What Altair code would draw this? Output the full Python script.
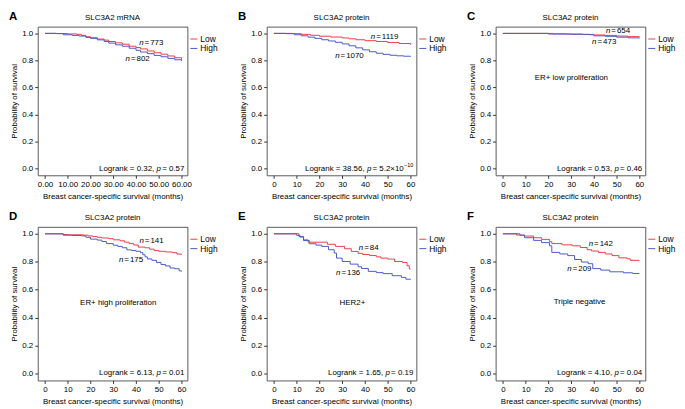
import altair as alt
import pandas as pd

FONT = "Liberation Sans"
RED = "#EE3E48"
BLUE = "#4A5BC6"
XTITLE = "Breast cancer-specific survival (months)"
YTITLE = "Probability of survival"

# ---------------- data ----------------
# Panel A  SLC3A2 mRNA
a_low_t = [0, 5, 10, 14, 16, 18, 20, 23, 26, 28, 31, 34, 37, 40, 42, 45, 48, 51, 54, 57, 60]
a_low_s = [1.0, 0.999, 0.996, 0.993, 0.985, 0.975, 0.968, 0.958, 0.95, 0.94, 0.93, 0.92, 0.905, 0.895, 0.885, 0.87, 0.857, 0.846, 0.833, 0.82, 0.805]
a_high_t = [0, 5, 8, 12, 15, 18, 20, 23, 26, 28, 31, 34, 37, 40, 42, 45, 48, 51, 54, 57, 60]
a_high_s = [1.0, 0.998, 0.99, 0.985, 0.98, 0.97, 0.963, 0.952, 0.94, 0.928, 0.915, 0.905, 0.89, 0.875, 0.862, 0.85, 0.837, 0.827, 0.815, 0.805, 0.795]

# Panel B  SLC3A2 protein (all)
b_low_t = [0, 8, 12, 16, 20, 25, 30, 33, 36, 40, 45, 50, 55, 60]
b_low_s = [1.0, 0.998, 0.993, 0.986, 0.979, 0.973, 0.966, 0.96, 0.953, 0.946, 0.94, 0.932, 0.925, 0.915]
b_high_t = [0, 5, 9, 12, 15, 18, 21, 24, 27, 30, 33, 36, 39, 42, 45, 48, 51, 54, 57, 60]
b_high_s = [1.0, 0.998, 0.99, 0.982, 0.972, 0.963, 0.953, 0.944, 0.934, 0.922, 0.908, 0.893, 0.878, 0.864, 0.853, 0.845, 0.838, 0.834, 0.831, 0.827]

# Panel C  ER+ low proliferation
c_low_t = [0, 22, 28, 35, 40, 45, 50, 55, 60]
c_low_s = [1.0, 0.997, 0.995, 0.992, 0.988, 0.985, 0.98, 0.976, 0.972]
c_high_t = [0, 20, 30, 38, 40, 45, 50, 55, 60]
c_high_s = [1.0, 0.995, 0.993, 0.99, 0.982, 0.978, 0.972, 0.967, 0.963]

# Panel D  ER+ high proliferation
d_low_t = [0, 8, 10, 17, 19, 21, 23, 25, 28, 30, 33, 35, 37, 39, 41, 44, 46, 48, 50, 53, 56, 58, 60]
d_low_s = [1.0, 0.995, 0.993, 0.99, 0.985, 0.98, 0.975, 0.97, 0.965, 0.957, 0.95, 0.94, 0.93, 0.92, 0.905, 0.9, 0.89, 0.88, 0.875, 0.87, 0.865, 0.855, 0.85]
d_high_t = [0, 8, 12, 16, 18, 20, 23, 25, 27, 30, 32, 34, 36, 38, 40, 42, 43, 44, 45, 47, 49, 51, 53, 55, 57, 59, 60]
d_high_s = [1.0, 0.99, 0.988, 0.985, 0.975, 0.962, 0.955, 0.945, 0.93, 0.918, 0.91, 0.9, 0.885, 0.88, 0.875, 0.865, 0.85, 0.835, 0.82, 0.81, 0.795, 0.78, 0.77, 0.755, 0.75, 0.735, 0.73]

# Panel E  HER2+
e_low_t = [0, 10, 11.5, 13, 15, 23.5, 27, 31, 34, 37, 39, 42, 45, 47, 50, 53, 56.5, 58.5, 59.5, 60]
e_low_s = [1.0, 0.988, 0.976, 0.957, 0.94, 0.925, 0.91, 0.893, 0.874, 0.86, 0.852, 0.845, 0.835, 0.826, 0.819, 0.802, 0.795, 0.771, 0.748, 0.748]
e_high_t = [0, 11, 13, 15.5, 18.5, 21, 24, 26.5, 27.5, 30, 33.5, 37, 38.5, 41.5, 45, 48, 52, 56, 58, 60]
e_high_s = [1.0, 0.981, 0.952, 0.929, 0.919, 0.91, 0.886, 0.862, 0.826, 0.802, 0.783, 0.764, 0.752, 0.731, 0.722, 0.715, 0.7, 0.688, 0.675, 0.671]

# Panel F  Triple negative
f_low_t = [0, 6, 9.5, 13.5, 17, 20.5, 21.5, 26, 30.5, 34, 37, 39, 42, 45, 48, 51, 54.5, 56, 60]
f_low_s = [1.0, 0.991, 0.984, 0.972, 0.96, 0.944, 0.93, 0.921, 0.914, 0.902, 0.886, 0.877, 0.867, 0.856, 0.844, 0.828, 0.821, 0.81, 0.81]
f_high_t = [0, 7.5, 9.5, 13.5, 17, 20.5, 21.5, 25, 28.5, 31.5, 34.5, 37.5, 39.5, 43, 47, 53, 57, 60]
f_high_s = [1.0, 0.99, 0.972, 0.953, 0.937, 0.914, 0.867, 0.856, 0.844, 0.816, 0.798, 0.786, 0.751, 0.74, 0.728, 0.721, 0.716, 0.716]

letters = ["A", "B", "C", "D", "E", "F"]
titles = ["SLC3A2 mRNA", "SLC3A2 protein", "SLC3A2 protein", "SLC3A2 protein", "SLC3A2 protein", "SLC3A2 protein"]
subtypes = [None, None, "ER+ low proliferation", "ER+ high proliferation", "HER2+", "Triple negative"]
n_low = ["773", "1119", "654", "141", "84", "142"]
n_high = ["802", "1070", "473", "175", "136", "209"]
logrank = ["0.32", "38.56", "0.53", "6.13", "1.65", "4.10"]
pvals = ["0.57", "5.2×10", "0.46", "0.01", "0.19", "0.04"]
pexp = [None, "−10", None, None, None, None]

# annotation anchors (months, survival)
n_low_pos = [(41.4, 0.93), (42.6, 0.976), (45.3, 1.017), (41.5, 0.948), (37.3, 0.9), (37.7, 0.926)]
n_high_pos = [(35.4, 0.81), (26.9, 0.83), (39.2, 0.937), (32.5, 0.81), (27.3, 0.718), (28.3, 0.75)]
sub_pos = [None, None, (30.1, 0.67), (32.2, 0.504), (34.5, 0.507), (33.7, 0.51)]

curves = [
    (a_low_t, a_low_s, a_high_t, a_high_s),
    (b_low_t, b_low_s, b_high_t, b_high_s),
    (c_low_t, c_low_s, c_high_t, c_high_s),
    (d_low_t, d_low_s, d_high_t, d_high_s),
    (e_low_t, e_low_s, e_high_t, e_high_s),
    (f_low_t, f_low_s, f_high_t, f_high_s),
]

# ---------------- helpers ----------------
W = 151
HEIGHTS = [150, 150, 150, 155, 155, 155]
FS = 8

_AW = {" ": 278, ",": 278, ".": 278, "=": 584, "×": 584, "−": 584, "L": 556, "o": 556,
       "g": 556, "r": 333, "a": 556, "n": 556, "k": 500, "p": 556}


def tw(s, size):
    return sum(_AW.get(c, 556) for c in s) * size / 1000.0


ONE = pd.DataFrame({"k": [0]})


def text_run(parts, x_enc, y_enc, anchor="left"):
    # parts: (text, style, size, dy, gap_before)
    widths = [tw(p[0], p[2]) for p in parts]
    total = sum(widths) + sum(p[4] for p in parts[1:])
    cur = 0.0 if anchor == "left" else -total
    out = []
    for k, ((t, st, sz, dy, gap), w) in enumerate(zip(parts, widths)):
        if k > 0:
            cur += gap
        out.append(
            alt.Chart(ONE).mark_text(
                text=t, fontStyle=st, fontSize=sz, align="left", baseline="middle",
                dx=cur, dy=dy, color="black", font=FONT,
            ).encode(x=x_enc, y=y_enc)
        )
        cur += w
    return out


def panel(i):
    lt, ls, ht, hs = curves[i]
    H = HEIGHTS[i]
    df = pd.concat([
        pd.DataFrame({"t": lt, "s": ls, "g": "Low"}),
        pd.DataFrame({"t": ht, "s": hs, "g": "High"}),
    ])
    xs = alt.Scale(domain=[-3.2, 62.6], nice=False, zero=False)
    ys = alt.Scale(domain=[-0.05, 1.05], nice=False, zero=False)
    xfmt = ".2f" if i == 0 else "d"
    xaxis = alt.Axis(values=[0, 10, 20, 30, 40, 50, 60], format=xfmt, title=XTITLE,
                     labelOverlap=False, labelFlush=False, domain=False, grid=False,
                     tickSize=3, labelPadding=2, titlePadding=4)
    yaxis = alt.Axis(values=[0, 0.2, 0.4, 0.6, 0.8, 1.0], format=".1f", title=YTITLE,
                     labelOverlap=False, labelFlush=False, domain=False, grid=False,
                     tickSize=3, labelPadding=2, titlePadding=3)

    def X(v):
        return alt.X(datum=v, scale=xs, axis=xaxis, title=XTITLE)

    def Y(v):
        return alt.Y(datum=v, scale=ys, axis=yaxis, title=YTITLE)

    lines = alt.Chart(df).mark_line(interpolate="step-after", strokeWidth=1).encode(
        x=alt.X("t:Q", scale=xs, axis=xaxis, title=XTITLE),
        y=alt.Y("s:Q", scale=ys, axis=yaxis, title=YTITLE),
        color=alt.Color(
            "g:N", sort=["Low", "High"],
            scale=alt.Scale(domain=["Low", "High"], range=[RED, BLUE]),
            legend=alt.Legend(title=None, orient="none", legendX=W + 2, legendY=8,
                              symbolType="stroke", symbolSize=50, symbolStrokeWidth=1,
                              labelFontSize=8.5, labelOffset=2, rowPadding=0.5,
                              padding=0, labelFont=FONT),
        ),
    )
    layers = [lines]

    # n labels
    for (px, py), num in [(n_low_pos[i], n_low[i]), (n_high_pos[i], n_high[i])]:
        layers += text_run(
            [("n", "italic", FS, 0, 0), ("=", "normal", FS, 0, 1.0), (num, "normal", FS, 0, 1.0)],
            X(px), Y(py), anchor="left",
        )

    # logrank text, right aligned near the right edge of the box
    parts = [("Logrank = " + logrank[i] + ",", "normal", FS, 0, 0), ("p", "italic", FS, 0, 2.2),
             ("= " + pvals[i], "normal", FS, 0, 1.2)]
    if pexp[i]:
        parts.append((pexp[i], "normal", 5.5, -3.5, 0.3))
    layers += text_run(parts, alt.value(W - 3), Y(0.0), anchor="right")

    # subtype label
    if sub_pos[i]:
        sx, sy = sub_pos[i]
        layers.append(
            alt.Chart(ONE).mark_text(text=subtypes[i], fontSize=FS, align="center",
                                     baseline="middle", color="black", font=FONT)
            .encode(x=X(sx), y=Y(sy))
        )

    # panel title
    layers.append(
        alt.Chart(ONE).mark_text(text=titles[i], fontSize=FS, align="center",
                                 baseline="alphabetic", color="black", font=FONT)
        .encode(x=alt.value(W / 2), y=alt.value(-7))
    )

    # panel letter
    layers.append(
        alt.Chart(ONE).mark_text(text=letters[i], fontSize=11.5, fontWeight="bold", align="left",
                                 baseline="alphabetic", color="black", font=FONT)
        .encode(x=alt.value(-29), y=alt.value(-7))
    )

    return alt.layer(*layers).properties(width=W, height=H)


chart = (
    alt.concat(*[panel(i) for i in range(6)], columns=3, spacing={"row": 9, "column": 18})
    .resolve_scale(color="independent")
    .properties(padding=0)
    .configure_view(stroke="#5a5a5a", strokeWidth=1)
    .configure_axis(labelFont=FONT, titleFont=FONT, labelFontSize=FS, titleFontSize=FS,
                    titleFontWeight="normal", labelColor="black", titleColor="black",
                    tickColor="#333333")
)

chart.save("out.html", embed_options={"renderer": "svg", "actions": False})
